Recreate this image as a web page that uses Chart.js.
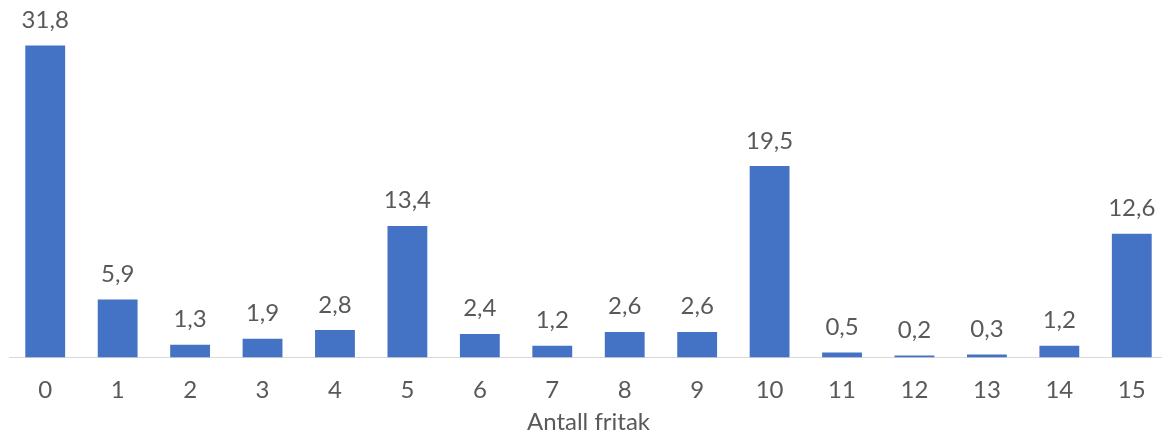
<!DOCTYPE html>
<html>
<head>
<meta charset="utf-8">
<script src="https://cdn.jsdelivr.net/npm/chart.js@4/dist/chart.umd.min.js"></script>
<style>
  html, body { margin: 0; padding: 0; background: #ffffff; overflow: hidden; }
  #wrap { position: relative; width: 1170px; height: 434px; }
</style>
</head>
<body>
<div id="wrap"><canvas id="chart"></canvas></div>
<script>
// Antall fritak (kategorier) og andel i prosent
const categories = ['0', '1', '2', '3', '4', '5', '6', '7', '8', '9', '10', '11', '12', '13', '14', '15'];
const shares = [31.8, 5.9, 1.3, 1.9, 2.8, 13.4, 2.4, 1.2, 2.6, 2.6, 19.5, 0.5, 0.2, 0.3, 1.2, 12.6];

const TEXT = '#595959';
const FONT = 'Lato, "Liberation Sans", sans-serif';

// Verdietiketter over søylene, med desimalkomma
const valueLabels = {
  id: 'valueLabels',
  afterDatasetsDraw(chart) {
    const ctx = chart.ctx;
    const meta = chart.getDatasetMeta(0);
    ctx.save();
    ctx.font = '24px ' + FONT;
    ctx.fillStyle = TEXT;
    ctx.textAlign = 'center';
    ctx.textBaseline = 'alphabetic';
    meta.data.forEach((bar, i) => {
      const v = chart.data.datasets[0].data[i];
      ctx.fillText(v.toFixed(1).replace('.', ','), bar.x, bar.y - 17.5);
    });
    ctx.restore();
  }
};

new Chart(document.getElementById('chart'), {
  type: 'bar',
  data: {
    labels: categories,
    datasets: [{
      data: shares,
      backgroundColor: '#4472C4',
      borderWidth: 0,
      categoryPercentage: 1,
      barPercentage: 0.55
    }]
  },
  options: {
    responsive: true,
    maintainAspectRatio: false,
    animation: false,
    layout: { padding: { left: 9, right: 2, top: 14, bottom: 0 } },
    plugins: {
      legend: { display: false },
      tooltip: { enabled: false }
    },
    scales: {
      y: {
        display: false,
        min: 0,
        max: 35
      },
      x: {
        grid: { display: false, drawTicks: false },
        border: { display: true, color: '#D9D9D9', width: 1 },
        ticks: {
          color: TEXT,
          font: { family: FONT, size: 24 },
          padding: 18,
          maxRotation: 0
        },
        title: {
          display: true,
          text: 'Antall fritak',
          color: TEXT,
          font: { family: FONT, size: 24, lineHeight: 1 },
          padding: { top: 0, bottom: 0 }
        },
        afterFit(scale) { scale.height = 76.5; }
      }
    }
  },
  plugins: [valueLabels]
});
</script>
</body>
</html>
